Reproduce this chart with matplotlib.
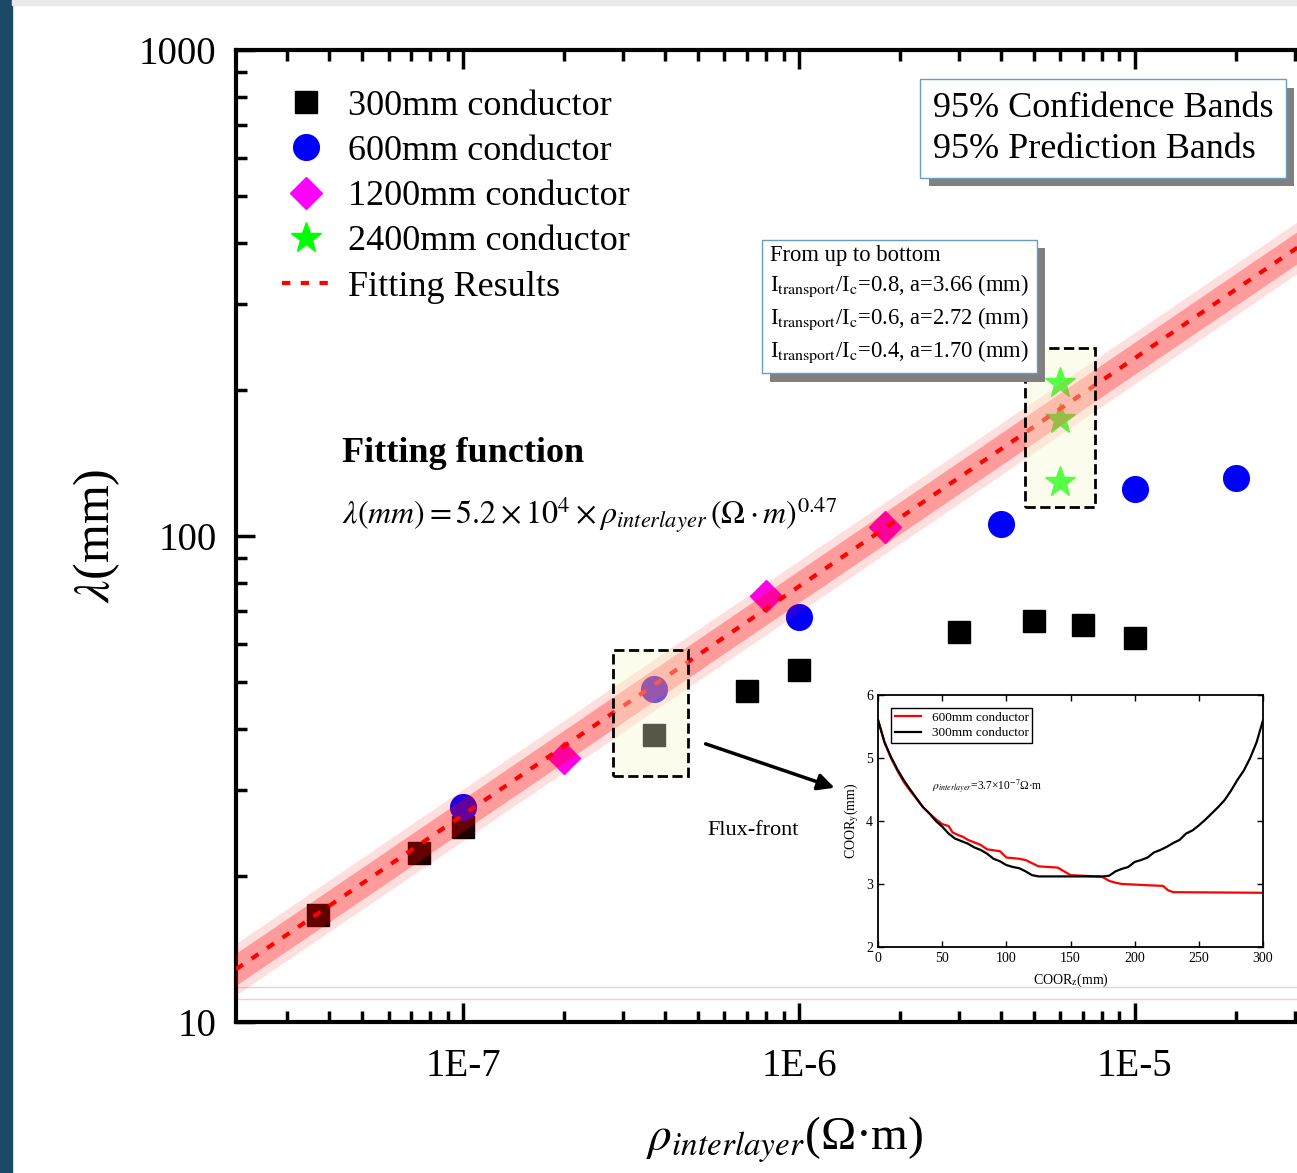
import matplotlib.pyplot as plt
import numpy as np
from matplotlib import patheffects
from matplotlib.patches import Rectangle
from matplotlib.ticker import FuncFormatter, LogLocator, NullFormatter

plt.rcParams['font.family'] = ['Liberation Serif', 'DejaVu Serif']
plt.rcParams['mathtext.fontset'] = 'stix'

# --- data ---
rho_300 = [3.7e-8, 7.4e-8, 1e-7, 3.7e-7, 7e-7, 1e-6, 3e-6, 5e-6, 7e-6, 1e-5]
lam_300 = [16.6, 22.3, 25.2, 38.9, 48.0, 53.0, 63.5, 66.8, 65.6, 61.7]
rho_600 = [1e-7, 3.7e-7, 1e-6, 4e-6, 1e-5, 2e-5]
lam_600 = [27.7, 48.4, 68.1, 106, 125, 131.6]
rho_1200 = [2e-7, 8e-7, 1.8e-6]
lam_1200 = [34.9, 75.2, 104.4]
rho_2400 = [6e-6, 6e-6, 6e-6]
lam_2400 = [206, 174, 129]

# fit: lambda = A * rho^B, band half widths in decades
fit_A = 5.2e4
fit_B = 0.47
conf_hw = 0.033
pred_hw = 0.053

# inset curves (COOR_z, COOR_y)
z_600 = [0, 5, 10, 15, 20, 25, 30, 35, 40, 45, 50, 55, 58, 62, 66, 70, 75, 80, 85, 95, 100,
         110, 115, 120, 125, 140, 145, 150, 170, 175, 180, 185, 190, 200, 210, 222, 226, 230, 300]
y_600 = [5.6, 5.25, 5.0, 4.8, 4.62, 4.48, 4.35, 4.22, 4.12, 4.03, 3.95, 3.92, 3.82, 3.78, 3.75,
         3.7, 3.66, 3.62, 3.55, 3.52, 3.42, 3.40, 3.38, 3.33, 3.28, 3.26, 3.2, 3.14, 3.12, 3.11,
         3.05, 3.02, 3.0, 2.99, 2.98, 2.97, 2.9, 2.87, 2.86]
z_300 = [0, 5, 10, 15, 20, 25, 30, 35, 40, 45, 50, 55, 60, 65, 70, 75, 80, 85, 90, 95, 100,
         105, 110, 115, 120, 125, 150, 175, 180, 185, 190, 195, 200, 205, 210, 215, 220, 225,
         230, 235, 240, 245, 250, 255, 260, 265, 270, 275, 280, 285, 290, 295, 300]
y_300 = [5.6, 5.25, 5.02, 4.82, 4.65, 4.5, 4.36, 4.22, 4.12, 4.0, 3.91, 3.8, 3.72, 3.68, 3.64,
         3.58, 3.54, 3.48, 3.40, 3.36, 3.30, 3.27, 3.25, 3.2, 3.14, 3.12, 3.12, 3.12, 3.13, 3.2,
         3.24, 3.27, 3.35, 3.38, 3.42, 3.5, 3.54, 3.59, 3.65, 3.7, 3.8, 3.85, 3.93, 4.02, 4.12,
         4.22, 4.33, 4.48, 4.65, 4.8, 5.0, 5.25, 5.6]

x_lo, x_hi = 2.11e-8, 4.74e-5

fig = plt.figure(figsize=(12.97, 11.73), dpi=100)
fig.patches.append(Rectangle((0, 0), 12 / 1297, 1, transform=fig.transFigure,
                             color='#1c4966', zorder=0))
fig.patches.append(Rectangle((12 / 1297, 1 - 5 / 1173), 1, 5 / 1173,
                             transform=fig.transFigure, color='#e9e9e9', zorder=0))

ax = fig.add_axes([0.182, 0.1288, 0.868, 0.8286])
ax.set_xscale('log')
ax.set_yscale('log')
ax.set_xlim(x_lo, x_hi)
ax.set_ylim(10, 1000)

ax.plot(rho_300, lam_300, 's', color='black', ms=16, label='300mm conductor', zorder=2)
ax.plot(rho_600, lam_600, 'o', color='#0000ff', ms=18.5, label='600mm conductor', zorder=2)
ax.plot(rho_1200, lam_1200, 'D', color='#ff00ff', ms=16.5, label='1200mm conductor', zorder=2)
ax.plot(rho_2400, lam_2400, '*', color='#00ff00', ms=23, label='2400mm conductor', zorder=2)

xx = np.logspace(np.log10(x_lo), np.log10(x_hi), 300)
fit = fit_A * xx ** fit_B
ax.fill_between(xx, fit / 10 ** pred_hw, fit * 10 ** pred_hw, color='red', alpha=0.13, lw=0, zorder=3)
ax.fill_between(xx, fit / 10 ** conf_hw, fit * 10 ** conf_hw, color='red', alpha=0.3, lw=0, zorder=3)
ax.plot(xx, fit, color='red', ls=(0, (2, 2.5)), lw=3, label='Fitting Results', zorder=4)

# faint lines near the bottom
ax.axhline(11.8, color='#f3d0d0', lw=1, zorder=1)
ax.axhline(11.15, color='#f3d0d0', lw=1, zorder=1)

# highlight boxes
box_fc = (0.98, 0.98, 0.80, 0.35)
ax.add_patch(Rectangle((2.8e-7, 32.1), 4.67e-7 - 2.8e-7, 58.3 - 32.1, facecolor=box_fc,
                       edgecolor='black', ls='--', lw=2, zorder=5))
ax.add_patch(Rectangle((4.71e-6, 114.7), 7.6e-6 - 4.71e-6, 243.7 - 114.7, facecolor=box_fc,
                       edgecolor='black', ls='--', lw=2, zorder=5))

ax.annotate('', xy=(1.3e-6, 30.2), xytext=(5.18e-7, 37.5),
            arrowprops=dict(arrowstyle='-|>', color='black', lw=2.5, mutation_scale=25), zorder=6)
ax.text(7.3e-7, 24.8, 'Flux-front', fontsize=16, ha='center', va='center')

ax.text(0.0941, 0.5844, 'Fitting function', transform=ax.transAxes, fontsize=26,
        fontweight='bold', va='center')
ax.text(0.0941, 0.5216,
        r'$\lambda(mm)=5.2\times10^{4}\times\rho_{interlayer}\,(\Omega\cdot m)^{0.47}$',
        transform=ax.transAxes, fontsize=23, va='center')

# axes styling
for s in ax.spines.values():
    s.set_linewidth(3)
ax.tick_params(which='both', direction='in', top=True, right=True, width=2.5)
ax.tick_params(which='major', length=14, labelsize=28)
ax.tick_params(axis='x', which='major', pad=19)
ax.tick_params(axis='y', which='major', pad=14)
ax.tick_params(which='minor', length=8)
ax.xaxis.set_major_locator(LogLocator(base=10, numticks=10))
ax.xaxis.set_minor_locator(LogLocator(base=10, subs=np.arange(2, 10), numticks=20))
ax.xaxis.set_minor_formatter(NullFormatter())
ax.xaxis.set_major_formatter(FuncFormatter(lambda v, p: f'1E{int(round(np.log10(v)))}'))
ax.yaxis.set_major_formatter(FuncFormatter(lambda v, p: f'{int(round(v))}'))
ax.yaxis.set_minor_formatter(NullFormatter())

ax.set_ylabel(r'$\lambda$(mm)', fontsize=36)
ax.yaxis.set_label_coords(-0.101, 0.5)
ax.set_xlabel(r'$\rho_{interlayer}$(Ω·m)', fontsize=34)
ax.xaxis.set_label_coords(0.4876, -0.0957)

leg = ax.legend(loc='upper left', bbox_to_anchor=(249 / 1297, 1 - 57 / 1173),
                bbox_transform=fig.transFigure, frameon=False, fontsize=26,
                handlelength=1.35, handletextpad=0.5, labelspacing=0.33)

shadow_fx = [patheffects.SimplePatchShadow(offset=(6, -6), shadow_rgbFace='#808080', alpha=1),
             patheffects.Normal()]


def shadow_box(x, y, txt, size, lsp, pad):
    t = fig.text(x, y, txt, fontsize=size, va='top', linespacing=lsp,
                 bbox=dict(boxstyle=f'square,pad={pad}', facecolor='white',
                           edgecolor='#6a9cc4', lw=1))
    t.get_bbox_patch().set_path_effects(shadow_fx)


shadow_box(933 / 1297, 1 - 92 / 1173, '95% Confidence Bands\n95% Prediction Bands', 26, 1.3, 0.35)
shadow_box(770 / 1297, 1 - 245 / 1173,
           'From up to bottom\n'
           r'I$_{\mathrm{transport}}$/I$_{\mathrm{c}}$=0.8, a=3.66 (mm)' '\n'
           r'I$_{\mathrm{transport}}$/I$_{\mathrm{c}}$=0.6, a=2.72 (mm)' '\n'
           r'I$_{\mathrm{transport}}$/I$_{\mathrm{c}}$=0.4, a=1.70 (mm)', 16.3, 1.36, 0.35)

# inset
ins = fig.add_axes([0.677, 0.1927, 0.2968, 0.2148])
ins.plot(z_600, y_600, color='red', lw=1.6, label='600mm conductor')
ins.plot(z_300, y_300, color='black', lw=1.6, label='300mm conductor')
ins.set_xlim(0, 300)
ins.set_ylim(2, 6)
ins.set_xticks(range(0, 301, 50))
ins.set_yticks(range(2, 7))
ins.tick_params(direction='in', top=True, right=True, labelsize=10, length=4, width=1)
for s in ins.spines.values():
    s.set_linewidth(1.3)
ins.set_xlabel(r'COOR$_{\mathrm{z}}$(mm)', fontsize=10, labelpad=5)
ins.set_ylabel(r'COOR$_{\mathrm{y}}$(mm)', fontsize=10, labelpad=4)
ins.text(42, 4.54, r'$\rho_{interlayer}$=3.7×10$^{\mathrm{-7}}$Ω·m', fontsize=8.3, va='center')
ins.legend(loc='upper left', fontsize=9.5, fancybox=False, edgecolor='black', framealpha=1,
           handlelength=2, borderaxespad=1.0, labelspacing=0.25, borderpad=0.25)

fig.savefig('out.png', dpi=100)
